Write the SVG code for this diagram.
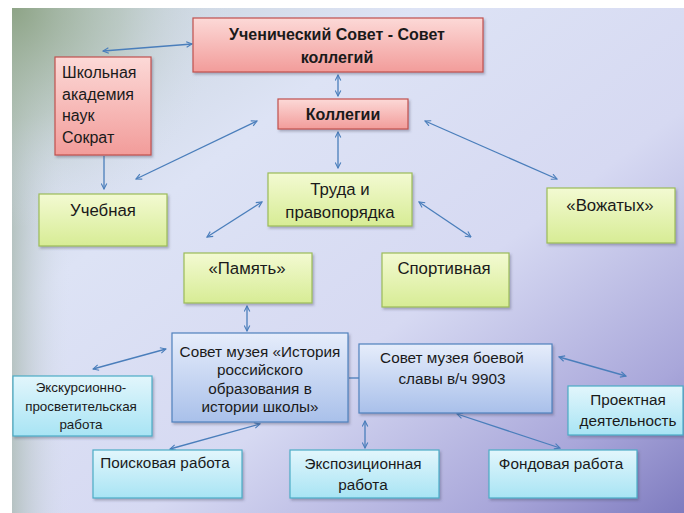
<svg xmlns="http://www.w3.org/2000/svg" width="684" height="513" viewBox="0 0 684 513">
<style>
text{font-family:"Liberation Sans",Arial,sans-serif;fill:#1a1a1a;text-anchor:middle}
.b{font-weight:bold;font-size:16px}
.t{font-size:15.3px}
.g{font-size:16.8px}
.s{font-size:13.4px}
.l{text-anchor:start;font-size:16px}
.pink{fill:url(#gPink);stroke:#c0504d;stroke-width:1.2}
.green{fill:url(#gGreen);stroke:#9bbb59;stroke-width:1.2}
.cyan{fill:url(#gCyan);stroke:#4bacc6;stroke-width:1.2}
.blue{fill:url(#gBlue);stroke:#4f81bd;stroke-width:1.2}
.box{filter:url(#sh)}
.c{fill:none;stroke:#4a7ebb;stroke-width:1.3}
.a{marker-start:url(#ar);marker-end:url(#ar)}
.e{marker-end:url(#ar)}
</style>
<defs>
<linearGradient id="bgLin" x1="0" y1="0" x2="1" y2="1">
<stop offset="0" stop-color="#c5d2d8"/>
<stop offset="0.3" stop-color="#dde3f5"/>
<stop offset="0.6" stop-color="#d6d9f2"/>
<stop offset="0.85" stop-color="#a9a7da"/>
<stop offset="1" stop-color="#7e7bbf"/>
</linearGradient>
<radialGradient id="bgTL" cx="12" cy="8" r="220" gradientUnits="userSpaceOnUse">
<stop offset="0" stop-color="#8ea487" stop-opacity="1"/>
<stop offset="0.5" stop-color="#a9bba8" stop-opacity="0.5"/>
<stop offset="1" stop-color="#dde3f5" stop-opacity="0"/>
</radialGradient>
<linearGradient id="bgL" x1="0" y1="0" x2="1" y2="0">
<stop offset="0" stop-color="#a7b7ad" stop-opacity="0.7"/>
<stop offset="1" stop-color="#dde3f5" stop-opacity="0"/>
</linearGradient>
<linearGradient id="gPink" x1="0" y1="0" x2="0" y2="1">
<stop offset="0" stop-color="#fcd9d7"/>
<stop offset="1" stop-color="#f29c9a"/>
</linearGradient>
<linearGradient id="gGreen" x1="0" y1="0" x2="0" y2="1">
<stop offset="0" stop-color="#f3fad2"/>
<stop offset="1" stop-color="#d7ec95"/>
</linearGradient>
<linearGradient id="gCyan" x1="0" y1="0" x2="0" y2="1">
<stop offset="0" stop-color="#e2f6fc"/>
<stop offset="1" stop-color="#a8e4f4"/>
</linearGradient>
<linearGradient id="gBlue" x1="0" y1="0" x2="0" y2="1">
<stop offset="0" stop-color="#e6edfb"/>
<stop offset="1" stop-color="#a9c0ea"/>
</linearGradient>
<filter id="sh" x="-10%" y="-10%" width="125%" height="130%">
<feDropShadow dx="1.5" dy="2" stdDeviation="1.2" flood-color="#404060" flood-opacity="0.35"/>
</filter>
<marker id="ar" viewBox="0 0 10 10" refX="9" refY="5" markerWidth="7" markerHeight="7" markerUnits="userSpaceOnUse" orient="auto-start-reverse">
<path d="M1,1 L9,5 L1,9" fill="none" stroke="#4a7ebb" stroke-width="1.6"/>
</marker>
</defs>
<rect x="0" y="0" width="684" height="513" fill="#ffffff"/>
<g id="background">
<rect x="12" y="8" width="672" height="505" fill="url(#bgLin)"/>
<rect x="12" y="8" width="60" height="505" fill="url(#bgL)"/>
<rect x="12" y="8" width="672" height="505" fill="url(#bgTL)"/>
</g>
<g id="connectors">
<line class="c a" x1="103" y1="51" x2="192" y2="44"/>
<line class="c a" x1="338" y1="75" x2="338" y2="96"/>
<line class="c e" x1="104" y1="156" x2="104" y2="189"/>
<line class="c a" x1="257" y1="121" x2="136" y2="179"/>
<line class="c a" x1="338" y1="132" x2="338" y2="168"/>
<line class="c a" x1="425" y1="121" x2="557" y2="179"/>
<line class="c a" x1="262" y1="202" x2="207" y2="237"/>
<line class="c a" x1="419" y1="202" x2="471" y2="237"/>
<line class="c a" x1="247" y1="306" x2="247" y2="331"/>
<line class="c a" x1="166" y1="349" x2="93" y2="369"/>
<line class="c a" x1="260" y1="424" x2="170" y2="449"/>
<line class="c" x1="349" y1="378" x2="359" y2="378"/>
<line class="c a" x1="365" y1="421" x2="365" y2="448"/>
<line class="c a" x1="457" y1="414" x2="560" y2="448"/>
<line class="c a" x1="559" y1="357" x2="626" y2="376"/>
</g>
<g id="n-sovet">
<rect class="pink box" x="193" y="18" width="290" height="54"/>
<text class="b" x="337" y="40">Ученический Совет - Совет</text>
<text class="b" x="337" y="63">коллегий</text>
</g>
<g id="n-akademiya">
<rect class="pink box" x="55" y="57" width="96" height="98"/>
<text class="l" x="62" y="78">Школьная</text>
<text class="l" x="62" y="100">академия</text>
<text class="l" x="62" y="121">наук</text>
<text class="l" x="62" y="143">Сократ</text>
</g>
<g id="n-kollegii">
<rect class="pink box" x="278" y="99" width="130" height="30"/>
<text class="b" x="343" y="120">Коллегии</text>
</g>
<g id="n-uchebnaya">
<rect class="green box" x="39" y="194" width="128" height="52"/>
<text class="g" x="103" y="216">Учебная</text>
</g>
<g id="n-truda">
<rect class="green box" x="268" y="173" width="144" height="53"/>
<text class="g" x="340" y="195">Труда и</text>
<text class="g" x="340" y="218">правопорядка</text>
</g>
<g id="n-vozhatyh">
<rect class="green box" x="547" y="188" width="128" height="55"/>
<text class="g" x="610" y="211">«Вожатых»</text>
</g>
<g id="n-pamyat">
<rect class="green box" x="184" y="253" width="128" height="50"/>
<text class="g" x="247" y="274">«Память»</text>
</g>
<g id="n-sport">
<rect class="green box" x="382" y="253" width="127" height="54"/>
<text class="g" x="444" y="274">Спортивная</text>
</g>
<g id="n-muzey-istoriya">
<rect class="blue box" x="172" y="333" width="176" height="89"/>
<text class="t" x="260" y="357">Совет музея «История</text>
<text class="t" x="260" y="375">российского</text>
<text class="t" x="260" y="394">образования в</text>
<text class="t" x="260" y="412">истории школы»</text>
</g>
<g id="n-muzey-slavy">
<rect class="blue box" x="359" y="344" width="193" height="69"/>
<text class="t" x="452" y="363">Совет музея боевой</text>
<text class="t" x="452" y="384">славы в/ч 9903</text>
</g>
<g id="n-ekskursionno">
<rect class="cyan box" x="13" y="376" width="139" height="60"/>
<text class="s" x="81" y="392">Экскурсионно-</text>
<text class="s" x="81" y="411">просветительская</text>
<text class="s" x="81" y="429">работа</text>
</g>
<g id="n-proektnaya">
<rect class="cyan box" x="568" y="386" width="115" height="49"/>
<text class="t" x="628" y="405">Проектная</text>
<text class="t" x="628" y="426">деятельность</text>
</g>
<g id="n-poiskovaya">
<rect class="cyan box" x="93" y="450" width="149" height="48"/>
<text class="t" x="165" y="468">Поисковая работа</text>
</g>
<g id="n-ekspozicionnaya">
<rect class="cyan box" x="290" y="450" width="149" height="48"/>
<text class="t" x="363" y="469">Экспозиционная</text>
<text class="t" x="363" y="490">работа</text>
</g>
<g id="n-fondovaya">
<rect class="cyan box" x="489" y="450" width="148" height="48"/>
<text class="t" x="561" y="469">Фондовая работа</text>
</g>
</svg>
